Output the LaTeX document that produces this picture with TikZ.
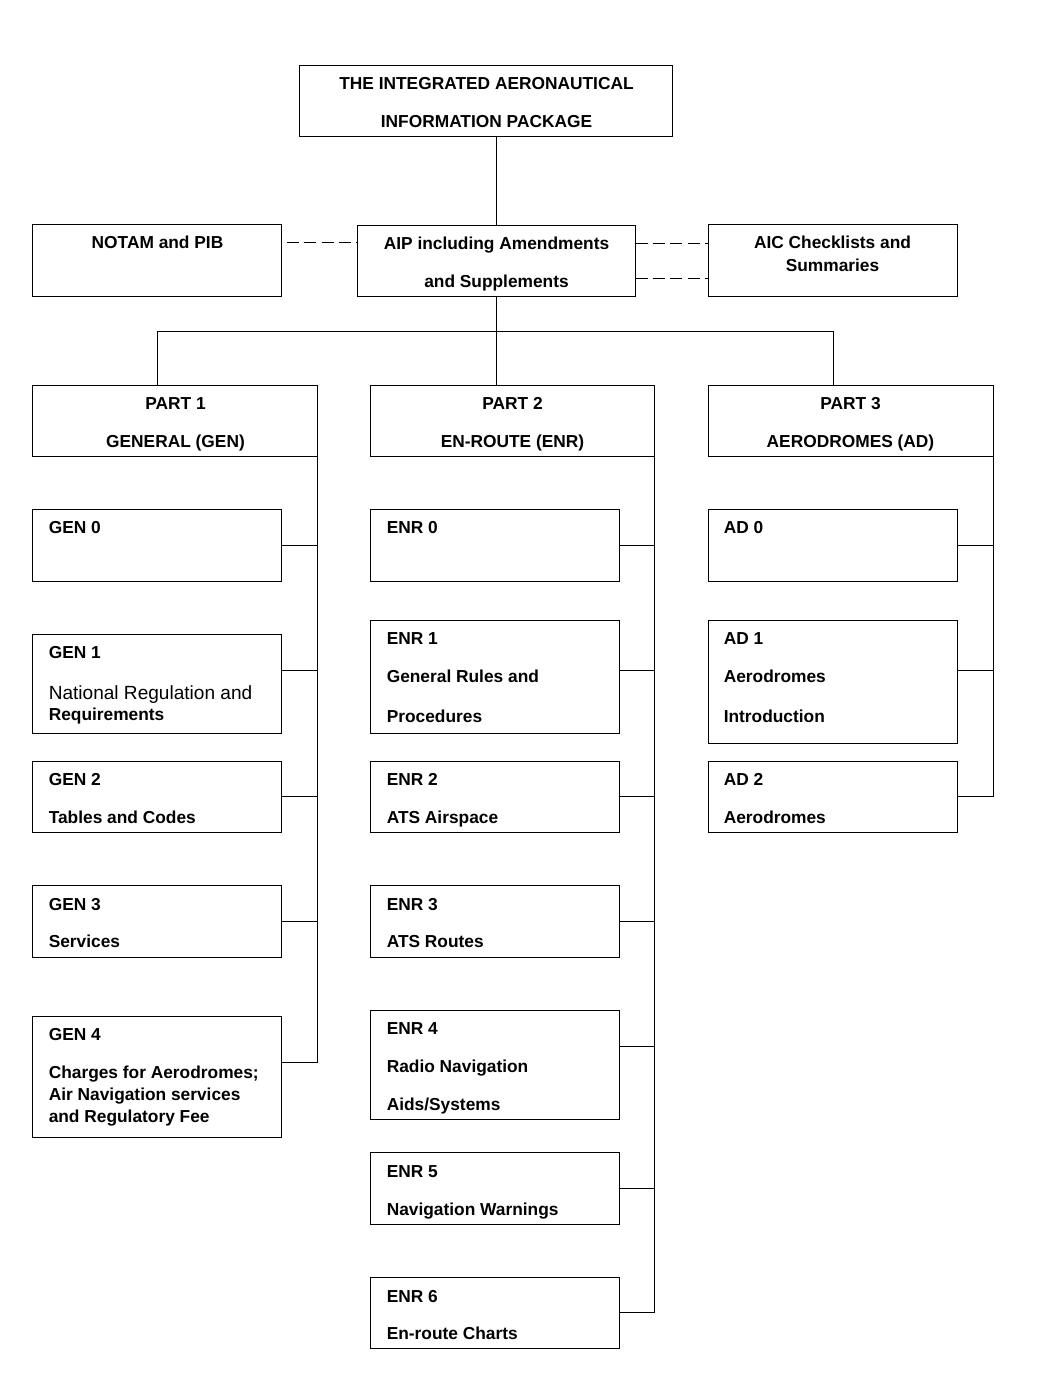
\documentclass[tikz,border=0pt]{standalone}
\usepackage{fontspec}
\setmainfont{Liberation Sans}
\usetikzlibrary{fit}
\begin{document}
\begin{tikzpicture}[x=0.75pt,y=-0.75pt,
  boxnode/.style={draw,line width=0.75pt,inner sep=0pt,outer sep=0pt,rectangle},
  txt/.style={inner sep=0pt,font=\fontsize{13}{15}\selectfont\bfseries},
  link/.style={draw,line width=0.75pt},
  dashlink/.style={draw,line width=0.75pt,dash pattern=on 9pt off 4pt}]
\useasboundingbox (0,0) rectangle (1052,1385);
\begin{scope}[shift={(0.5,0.5)}]
% box macro: name, x1,y1,x2,y2
\newcommand\mybox[5]{\node[boxnode,fit={(#2,#3) (#4,#5)}] (#1) {};}
\newcommand\tl[4]{\node[txt,anchor=base west] (#1) at (#2,#3+6) {#4};}
\newcommand\tc[4]{\node[txt,anchor=base] (#1) at (#2,#3+6) {#4};}
% boxes
\mybox{top}{299}{65}{672}{136}
\mybox{notam}{32}{224}{281}{296}
\mybox{aip}{357}{225}{635}{296}
\mybox{aic}{708}{224}{957}{296}
\mybox{part1}{32}{385}{317}{456}
\mybox{part2}{370}{385}{654}{456}
\mybox{part3}{708}{385}{993}{456}
\mybox{gen0}{32}{509}{281}{581}
\mybox{gen1}{32}{634}{281}{733}
\mybox{gen2}{32}{761}{281}{832}
\mybox{gen3}{32}{885}{281}{957}
\mybox{gen4}{32}{1016}{281}{1137}
\mybox{enr0}{370}{509}{619}{581}
\mybox{enr1}{370}{620}{619}{733}
\mybox{enr2}{370}{761}{619}{832}
\mybox{enr3}{370}{885}{619}{957}
\mybox{enr4}{370}{1010}{619}{1119}
\mybox{enr5}{370}{1152}{619}{1224}
\mybox{enr6}{370}{1277}{619}{1348}
\mybox{ad0}{708}{509}{957}{581}
\mybox{ad1}{708}{620}{957}{743}
\mybox{ad2}{708}{761}{957}{832}
% texts
\tc{t1}{486}{83}{THE INTEGRATED AERONAUTICAL}
\tc{t2}{486}{121}{INFORMATION PACKAGE}
\tc{n1}{157}{242}{NOTAM and PIB}
\tc{a1}{496}{243}{AIP including Amendments}
\tc{a2}{496}{281}{and Supplements}
\tc{c1}{832}{242}{AIC Checklists and}
\tc{c2}{832}{265}{Summaries}
\tc{p1a}{175}{403}{PART 1}
\tc{p1b}{175}{441}{GENERAL (GEN)}
\tc{p2a}{512}{403}{PART 2}
\tc{p2b}{512}{441}{EN-ROUTE (ENR)}
\tc{p3a}{850}{403}{PART 3}
\tc{p3b}{850}{441}{AERODROMES (AD)}
\tl{g0a}{48}{527}{GEN 0}
\tl{g1a}{48}{652}{GEN 1}
\node[inner sep=0pt,anchor=base west,font=\fontsize{14.3}{16}\selectfont] (g1b) at (48,699) {National Regulation and};
\tl{g1c}{48}{714}{Requirements}
\tl{g2a}{48}{779}{GEN 2}
\tl{g2b}{48}{817}{Tables and Codes}
\tl{g3a}{48}{904}{GEN 3}
\tl{g3b}{48}{941}{Services}
\tl{g4a}{48}{1034}{GEN 4}
\tl{g4b}{48}{1072}{Charges for Aerodromes;}
\tl{g4c}{48}{1094}{Air Navigation services}
\tl{g4d}{48}{1116}{and Regulatory Fee}
\tl{e0a}{386}{527}{ENR 0}
\tl{e1a}{386}{638}{ENR 1}
\tl{e1b}{386}{676}{General Rules and}
\tl{e1c}{386}{716}{Procedures}
\tl{e2a}{386}{779}{ENR 2}
\tl{e2b}{386}{817}{ATS Airspace}
\tl{e3a}{386}{904}{ENR 3}
\tl{e3b}{386}{941}{ATS Routes}
\tl{e4a}{386}{1028}{ENR 4}
\tl{e4b}{386}{1066}{Radio Navigation}
\tl{e4c}{386}{1104}{Aids/Systems}
\tl{e5a}{386}{1171}{ENR 5}
\tl{e5b}{386}{1209}{Navigation Warnings}
\tl{e6a}{386}{1296}{ENR 6}
\tl{e6b}{386}{1333}{En-route Charts}
\tl{d0a}{723}{527}{AD 0}
\tl{d1a}{723}{638}{AD 1}
\tl{d1b}{723}{676}{Aerodromes}
\tl{d1c}{723}{716}{Introduction}
\tl{d2a}{723}{779}{AD 2}
\tl{d2b}{723}{817}{Aerodromes}
% connectors
\draw[link] (aip.north) -- (aip.north |- top.south);
\draw[dashlink,dash phase=9pt] ([yshift=-13.5pt]notam.north east) coordinate (dn) -- (dn -| aip.west);
\draw[dashlink] ([yshift=-13.5pt]aip.north east) coordinate (da) -- (da -| aic.west);
\draw[dashlink] ([yshift=-39.75pt]aip.north east) coordinate (db) -- (db -| aic.west);
\coordinate (bus) at (aip.south |- 0,331);
\draw[link] (aip.south) -- (part2.north -| aip.south);
\draw[link] (part1.north -| notam.south) |- (bus) -| (part3.north -| aic.south);
% side connectors: name, box, px offset, part
\newcommand\conn[4]{\path ([yshift=-#3*0.75pt]#2.north east) coordinate (#1);
  \draw[link] (#1) -- (#1 -| #4.east);}
\conn{cg0}{gen0}{36}{part1}
\conn{cg1}{gen1}{36}{part1}
\conn{cg2}{gen2}{35}{part1}
\conn{cg3}{gen3}{36}{part1}
\conn{cg4}{gen4}{46}{part1}
\conn{ce0}{enr0}{36}{part2}
\conn{ce1}{enr1}{50}{part2}
\conn{ce2}{enr2}{35}{part2}
\conn{ce3}{enr3}{36}{part2}
\conn{ce4}{enr4}{36}{part2}
\conn{ce5}{enr5}{36}{part2}
\conn{ce6}{enr6}{35}{part2}
\conn{cd0}{ad0}{36}{part3}
\conn{cd1}{ad1}{50}{part3}
\conn{cd2}{ad2}{35}{part3}
\draw[link] (part1.south east) -- (cg4 -| part1.east);
\draw[link] (part2.south east) -- (ce6 -| part2.east);
\draw[link] (part3.south east) -- (cd2 -| part3.east);
\end{scope}
\end{tikzpicture}
\end{document}
